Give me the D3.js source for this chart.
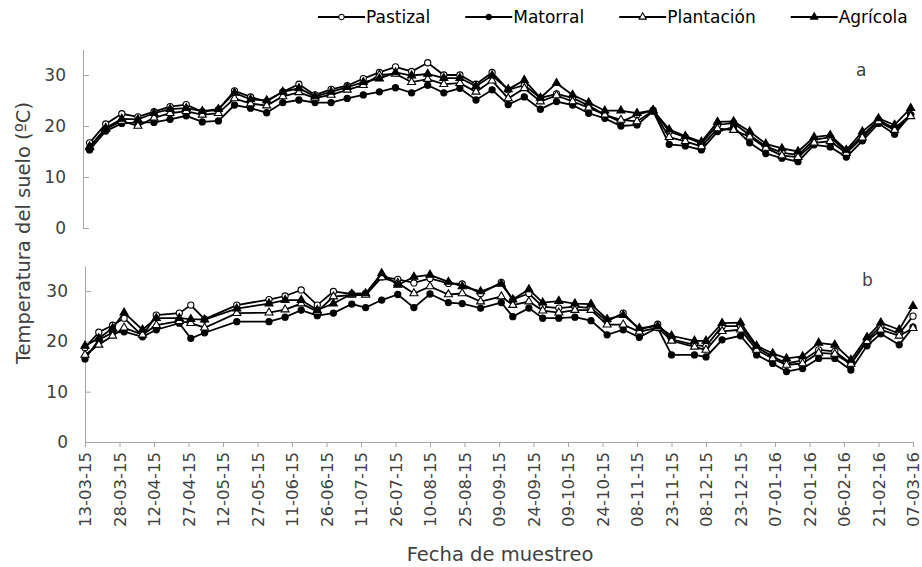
<!DOCTYPE html>
<html>
<head>
<meta charset="utf-8">
<script src="https://cdn.jsdelivr.net/npm/d3@7"></script>
<style>
  body { margin: 0; background: #fff; }
  svg { font-family: "DejaVu Sans", Verdana, sans-serif; }
</style>
</head>
<body>
<svg id="chart" width="922" height="567"></svg>
<script>
var seriesNames = ["Pastizal", "Matorral", "Plantación", "Agrícola"];

// panel a: weekly sampling
var datesA = [
  "2015-03-15","2015-03-22","2015-03-29","2015-04-05","2015-04-12","2015-04-19","2015-04-26",
  "2015-05-03","2015-05-10","2015-05-17","2015-05-24","2015-05-31","2015-06-07","2015-06-14",
  "2015-06-21","2015-06-28","2015-07-05","2015-07-12","2015-07-19","2015-07-26","2015-08-02",
  "2015-08-09","2015-08-16","2015-08-23","2015-08-30","2015-09-06","2015-09-13","2015-09-20",
  "2015-09-27","2015-10-04","2015-10-11","2015-10-18","2015-10-25","2015-11-01","2015-11-08",
  "2015-11-15","2015-11-22","2015-11-29","2015-12-06","2015-12-13","2015-12-20","2015-12-27",
  "2016-01-03","2016-01-10","2016-01-17","2016-01-24","2016-01-31","2016-02-07","2016-02-14",
  "2016-02-21","2016-02-28","2016-03-06"
];
var pastizalA = [16.7,20.4,22.4,21.8,22.8,23.8,24.2,22.8,23.2,26.9,25.7,24.8,26.7,28.2,26.1,27.2,27.9,29.3,30.5,31.6,30.7,32.4,30.0,30.0,28.2,30.5,27.1,28.0,25.5,26.3,25.5,24.0,22.2,20.8,22.2,23.1,18.9,17.8,16.6,20.2,20.6,18.2,16.0,14.8,14.3,17.3,17.8,15.0,18.1,21.2,19.5,22.2];
var matorralA = [15.3,19.0,20.5,20.7,20.7,21.3,22.0,20.8,21.0,24.1,23.5,22.6,24.6,25.1,24.6,24.6,25.4,26.1,26.7,27.5,26.5,28.0,26.5,27.4,25.1,27.1,24.2,25.7,23.3,24.8,24.1,22.5,21.5,20.0,20.2,22.9,16.4,16.1,15.3,18.9,19.8,16.7,14.6,13.7,13.0,16.3,15.9,13.9,17.1,20.5,18.4,22.2];
var plantacionA = [16.0,19.4,21.0,20.0,21.6,22.5,22.9,22.2,22.5,25.4,24.4,24.0,25.8,26.6,25.5,26.1,27.1,28.0,30.0,30.2,28.6,29.2,28.2,28.4,26.7,28.9,25.4,27.4,24.8,26.0,24.8,23.6,22.2,21.2,20.9,23.0,17.8,17.0,16.0,19.5,19.2,17.9,15.7,14.2,13.9,16.7,17.0,14.7,17.7,20.9,19.2,21.9];
var agricolaA = [15.8,19.6,21.4,21.3,22.5,23.3,23.5,22.9,23.3,26.5,25.2,25.0,26.7,27.4,25.8,26.7,27.6,28.6,29.3,30.5,29.9,30.2,29.4,29.4,27.8,29.9,27.2,29.0,25.5,28.4,26.1,24.6,23.0,23.0,22.5,23.1,19.3,18.0,16.9,20.8,20.9,18.9,16.5,15.6,15.0,17.8,18.2,15.3,18.9,21.5,20.2,23.5];

// panel b: irregular sampling
var datesB = [
  "2015-03-13","2015-03-19","2015-03-25","2015-03-30","2015-04-07","2015-04-13","2015-04-23",
  "2015-04-28","2015-05-04","2015-05-18","2015-06-01","2015-06-08","2015-06-15","2015-06-22",
  "2015-06-29","2015-07-07","2015-07-13","2015-07-20","2015-07-27","2015-08-03","2015-08-10",
  "2015-08-18","2015-08-24","2015-09-01","2015-09-10","2015-09-15","2015-09-22","2015-09-28",
  "2015-10-05","2015-10-12","2015-10-19","2015-10-26","2015-11-02","2015-11-09","2015-11-17",
  "2015-11-23","2015-12-03","2015-12-08","2015-12-15","2015-12-23","2015-12-30","2016-01-06",
  "2016-01-12","2016-01-19","2016-01-26","2016-02-02","2016-02-09","2016-02-16","2016-02-22",
  "2016-03-01","2016-03-07"
];
var pastizalB = [18.7,21.8,23.2,24.6,21.1,25.2,25.6,27.2,24.4,27.2,28.3,29.0,30.2,27.2,29.9,29.4,29.5,32.8,32.3,31.6,32.5,31.5,31.4,29.5,31.7,28.3,29.5,26.9,26.6,26.9,26.6,24.0,25.6,22.3,23.4,20.4,19.3,19.0,23.0,23.0,18.8,17.0,15.6,16.2,18.3,18.0,15.6,20.3,23.0,21.5,25.0];
var matorralB = [16.5,20.3,21.7,21.9,20.9,22.3,23.6,20.6,21.7,23.9,23.9,24.8,26.2,25.1,25.6,27.4,26.7,28.2,29.3,26.7,29.4,27.7,27.5,26.6,27.7,24.9,26.6,24.6,24.6,24.8,24.1,21.3,22.3,20.8,22.7,17.3,17.3,16.9,20.3,21.1,17.3,15.6,14.0,14.6,16.6,16.6,14.3,19.1,21.5,19.3,22.8];
var plantacionB = [17.3,19.3,21.1,22.7,21.3,23.2,24.0,23.6,22.7,25.6,25.7,26.3,27.5,25.9,28.9,29.2,29.2,32.7,31.6,29.5,30.9,29.3,29.5,27.9,28.9,27.2,27.9,26.1,25.7,26.2,26.2,23.3,23.3,21.9,22.7,20.1,18.9,18.3,22.0,22.3,18.3,16.6,15.3,15.6,17.7,17.5,15.5,20.0,22.3,21.1,22.6];
var agricolaB = [19.1,20.6,22.6,25.7,22.3,24.6,24.6,24.4,24.3,26.5,27.5,28.2,28.2,26.2,27.5,29.4,29.5,33.5,31.2,32.8,33.2,31.8,30.9,29.9,31.4,28.3,30.3,27.7,28.0,27.5,27.4,24.4,25.2,22.6,23.0,21.1,20.1,20.1,23.6,23.7,19.1,17.6,16.6,17.0,19.7,19.3,16.3,20.8,23.7,22.3,27.0];

var xTickLabels = [
  "13-03-15","28-03-15","12-04-15","27-04-15","12-05-15","27-05-15","11-06-15","26-06-15",
  "11-07-15","26-07-15","10-08-15","25-08-15","09-09-15","24-09-15","09-10-15","24-10-15",
  "08-11-15","23-11-15","08-12-15","23-12-15","07-01-16","22-01-16","06-02-16","21-02-16","07-03-16"
];
var yTicks = [0, 10, 20, 30];

var parseDate = d3.timeParse("%Y-%m-%d");
var parseTick = d3.timeParse("%d-%m-%y");
var tickDates = xTickLabels.map(parseTick);

var svg = d3.select("#chart");
var textColor = "#404040";
var axisColor = "#a6a6a6";

var x = d3.scaleTime()
  .domain([tickDates[0], tickDates[tickDates.length - 1]])
  .range([85, 913]);

var symbols = [
  { type: d3.symbolCircle, fill: "#fff", size: 30 },
  { type: d3.symbolCircle, fill: "#000", size: 30 },
  { type: d3.symbolTriangle, fill: "#fff", size: 28 },
  { type: d3.symbolTriangle, fill: "#000", size: 28 }
];

var panels = [
  { label: "a", dates: datesA, values: [pastizalA, matorralA, plantacionA, agricolaA], y0: 228, y35: 49.5, axisX: 83, labelPos: [856, 76] },
  { label: "b", dates: datesB, values: [pastizalB, matorralB, plantacionB, agricolaB], y0: 442, y35: 265.8, axisX: 85, labelPos: [862, 286] }
];

panels.forEach(function(p, pi) {
  var y = d3.scaleLinear().domain([0, 35]).range([p.y0, p.y35]);
  var g = svg.append("g");

  var yAxis = g.append("g")
    .attr("transform", "translate(" + p.axisX + ",0)")
    .call(d3.axisLeft(y).tickValues(yTicks).tickSizeInner(-6).tickSizeOuter(0).tickPadding(17));
  yAxis.selectAll("path, line").attr("stroke", axisColor);
  yAxis.selectAll("text").attr("fill", textColor).style("font-size", "17px").style("font-family", "DejaVu Sans");

  if (pi == 1) {
    var xAxis = g.append("g")
      .attr("transform", "translate(0," + p.y0 + ")")
      .call(d3.axisBottom(x).tickValues(tickDates).tickSizeInner(5).tickSizeOuter(0)
        .tickFormat(d3.timeFormat("%d-%m-%y")));
    xAxis.selectAll("path, line").attr("stroke", axisColor);
    xAxis.selectAll("text")
      .attr("fill", textColor)
      .style("font-size", "16.5px")
      .style("font-family", "DejaVu Sans")
      .attr("transform", "rotate(-90)")
      .attr("text-anchor", "end")
      .attr("x", -10)
      .attr("y", 0)
      .attr("dy", "0.35em");
  }

  var dates = p.dates.map(parseDate);
  var line = d3.line()
    .x(function(d) { return x(d.date); })
    .y(function(d) { return y(d.value); });

  p.values.forEach(function(vals, si) {
    var pts = vals.map(function(v, i) { return { date: dates[i], value: v }; });
    var sg = g.append("g").attr("class", "series");
    sg.append("path")
      .datum(pts)
      .attr("d", line)
      .attr("fill", "none")
      .attr("stroke", "#000")
      .attr("stroke-width", 1.8);
    sg.selectAll(".pt")
      .data(pts)
      .enter()
      .append("path")
      .attr("class", "pt")
      .attr("d", d3.symbol().type(symbols[si].type).size(symbols[si].size))
      .attr("transform", function(d) { return "translate(" + x(d.date) + "," + y(d.value) + ")"; })
      .attr("fill", symbols[si].fill)
      .attr("stroke", "#000")
      .attr("stroke-width", 1.1);
  });

  g.append("text")
    .attr("x", p.labelPos[0])
    .attr("y", p.labelPos[1])
    .attr("fill", textColor)
    .style("font-size", "17px")
    .text(p.label);
});

// y title
svg.append("text")
  .attr("transform", "translate(23,233) rotate(-90)")
  .attr("text-anchor", "middle")
  .attr("dy", "0.35em")
  .attr("fill", textColor)
  .style("font-size", "19.5px")
  .text("Temperatura del suelo (ºC)");

// x title
svg.append("text")
  .attr("x", 500)
  .attr("y", 561)
  .attr("text-anchor", "middle")
  .attr("fill", textColor)
  .style("font-size", "19.5px")
  .text("Fecha de muestreo");

// legend
var legend = svg.append("g").attr("transform", "translate(318,17)");
var lx = 0;
seriesNames.forEach(function(name, i) {
  var item = legend.append("g").attr("transform", "translate(" + lx + ",0)");
  item.append("line")
    .attr("x1", 0).attr("x2", 47)
    .attr("stroke", "#000").attr("stroke-width", 2);
  item.append("path")
    .attr("d", d3.symbol().type(symbols[i].type).size(symbols[i].size * 0.8))
    .attr("transform", "translate(23.5,0)")
    .attr("fill", symbols[i].fill)
    .attr("stroke", "#000")
    .attr("stroke-width", 1.1);
  var t = item.append("text")
    .attr("x", 48)
    .attr("dy", "0.35em")
    .attr("fill", "#000")
    .style("font-size", "17px")
    .text(name);
  lx += 48 + t.node().getComputedTextLength() + 35;
});
</script>
</body>
</html>
